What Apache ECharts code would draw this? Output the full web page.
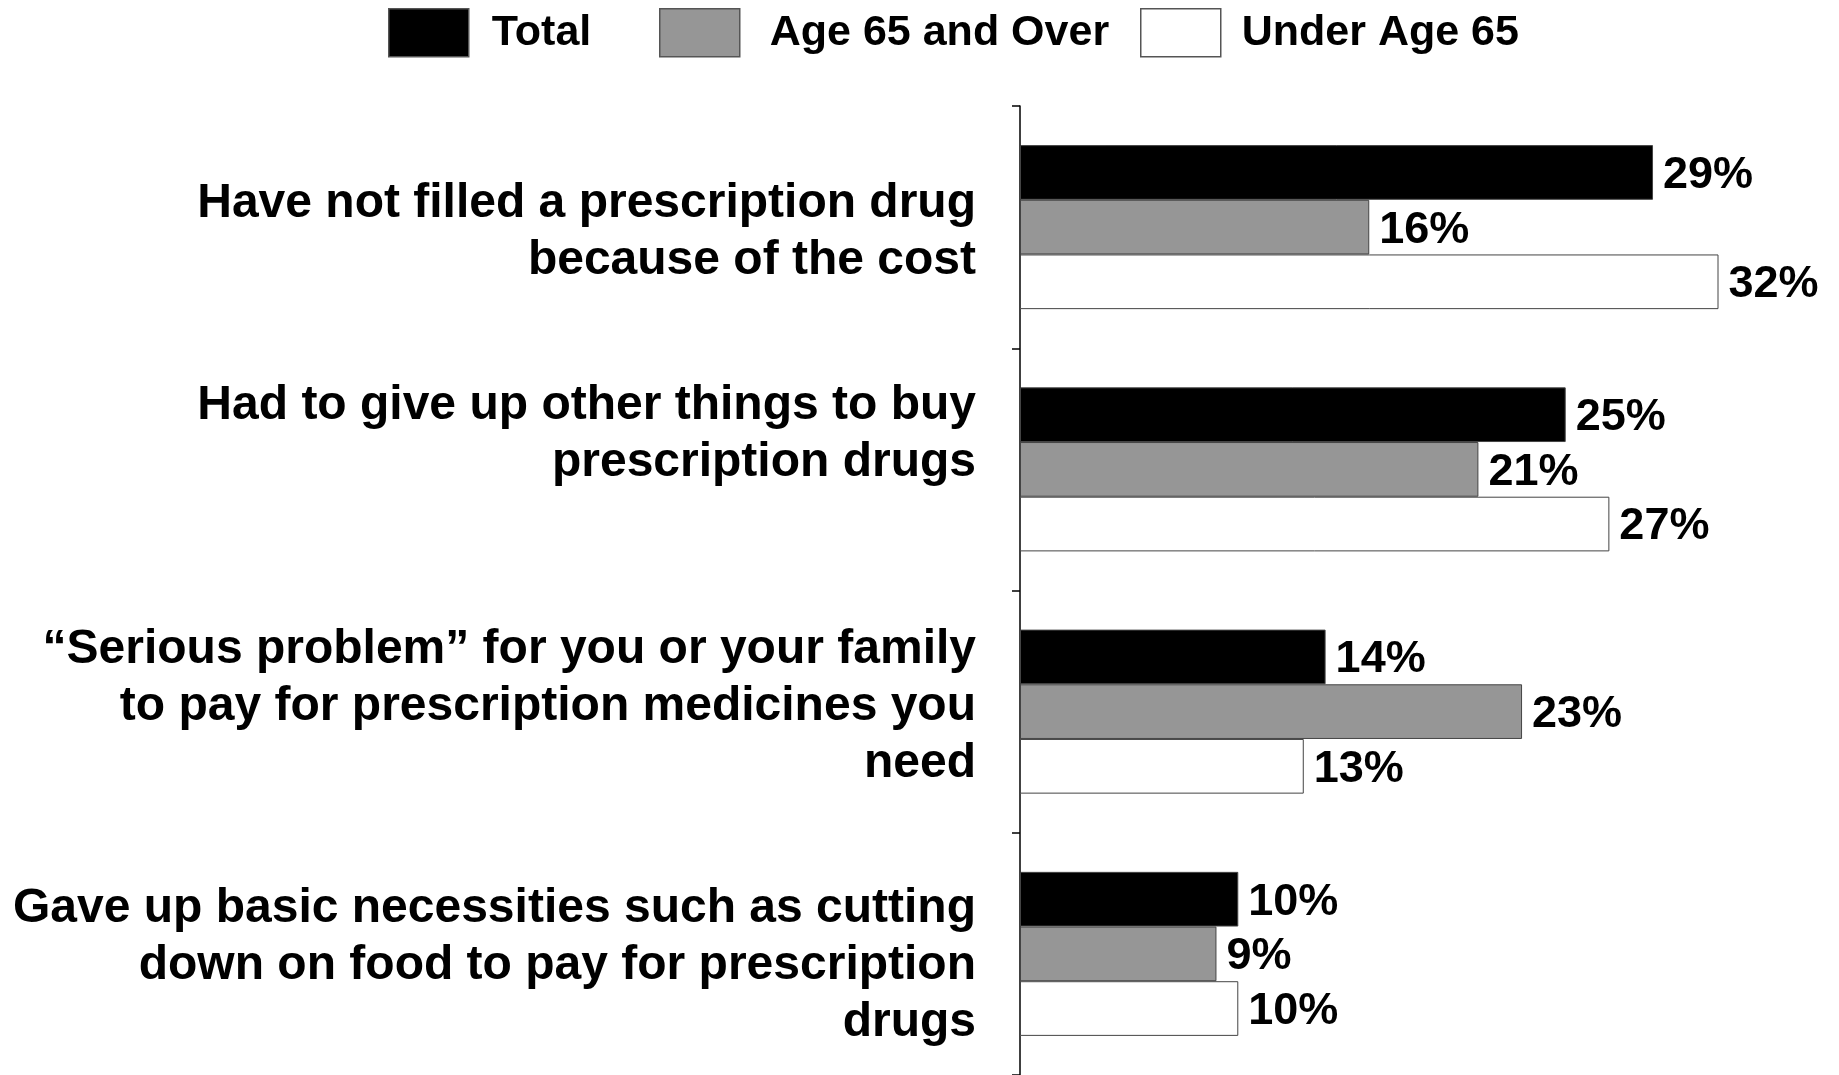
<!DOCTYPE html>
<html>
<head>
<meta charset="utf-8">
<style>
  html, body { margin: 0; padding: 0; background: #fff; }
  #chart { width: 1839px; height: 1075px; }
</style>
<script src="https://cdn.jsdelivr.net/npm/echarts@6/dist/echarts.min.js"></script>
</head>
<body>
<div id="chart"></div>
<script>
// Survey items (top to bottom)
const categories = [
  'Have not filled a prescription drug\nbecause of the cost',
  'Had to give up other things to buy\nprescription drugs',
  '\u201CSerious problem\u201D for you or your family\nto pay for prescription medicines you\nneed',
  'Gave up basic necessities such as cutting\ndown on food to pay for prescription\ndrugs'
];
// Vertical nudge of each category label (px, negative = up)
const labelShift = [5, -35, -5, 12];

const seriesNames = ['Total', 'Age 65 and Over', 'Under Age 65'];
const totalValues   = [29, 25, 14, 10];
const age65Values   = [16, 21, 23, 9];
const under65Values = [32, 27, 13, 10];

const FONT = '"Liberation Sans", Arial, Helvetica, sans-serif';
const LABEL_SIZE = 48;
const LABEL_LINE = 57;

// Category labels as rich text; a blank spacer line above or below
// moves the centred text block by half the spacer height.
function categoryLabel(value, index) {
  const lines = value.split('\n').map(l => '{t|' + l + '}');
  const d = labelShift[index] || 0;
  const h = Math.round(Math.abs(d) * 2);
  const rich = [];
  if (d > 0) rich.push('{g' + h + '| }');
  rich.push(...lines);
  if (d < 0) rich.push('{g' + h + '| }');
  return rich.join('\n');
}
const richStyles = {
  t: { fontFamily: FONT, fontWeight: 'bold', fontSize: LABEL_SIZE, lineHeight: LABEL_LINE, color: '#000', align: 'right' }
};
labelShift.forEach(d => {
  const h = Math.round(Math.abs(d) * 2);
  richStyles['g' + h] = { fontSize: 1, lineHeight: h, height: h };
});

function barSeries(name, values, color) {
  return {
    name: name,
    type: 'bar',
    data: values,
    barGap: '0%',
    barCategoryGap: '32.3%',
    itemStyle: { color: color, borderColor: '#444', borderWidth: 1 },
    label: {
      show: true,
      position: 'right',
      distance: 10,
      offset: [0, 3],
      formatter: '{c}%',
      color: '#000',
      fontFamily: FONT,
      fontWeight: 'bold',
      fontSize: 45
    }
  };
}

function legendAt(left, name, gap) {
  return {
    left: left,
    top: 3,
    data: [name],
    icon: 'rect',
    itemWidth: 80,
    itemHeight: 48,
    selectedMode: false,
    itemStyle: { borderColor: '#555', borderWidth: 1.5 },
    textStyle: {
      color: '#000',
      fontFamily: FONT,
      fontWeight: 'bold',
      fontSize: 43,
      padding: [4, 0, 0, gap]
    }
  };
}

const chart = echarts.init(document.getElementById('chart'));
chart.setOption({
  backgroundColor: '#fff',
  animation: false,
  legend: [
    legendAt(383, seriesNames[0], 18),
    legendAt(654, seriesNames[1], 25),
    legendAt(1135, seriesNames[2], 16)
  ],
  grid: { left: 1020, top: 106, width: 764, height: 976, containLabel: false },
  xAxis: {
    type: 'value',
    min: 0,
    max: 35,
    show: false
  },
  yAxis: {
    type: 'category',
    inverse: true,
    data: categories,
    axisLine: { show: true, lineStyle: { color: '#000', width: 1.5 } },
    axisTick: { show: true, length: 8, lineStyle: { color: '#000', width: 1.5 } },
    axisLabel: {
      margin: 44,
      color: '#000',
      fontFamily: FONT,
      fontWeight: 'bold',
      fontSize: LABEL_SIZE,
      lineHeight: LABEL_LINE,
      align: 'right',
      formatter: categoryLabel,
      rich: richStyles
    },
    splitLine: { show: false }
  },
  series: [
    barSeries(seriesNames[0], totalValues, '#000000'),
    barSeries(seriesNames[1], age65Values, '#969696'),
    barSeries(seriesNames[2], under65Values, '#ffffff')
  ]
});
</script>
</body>
</html>
